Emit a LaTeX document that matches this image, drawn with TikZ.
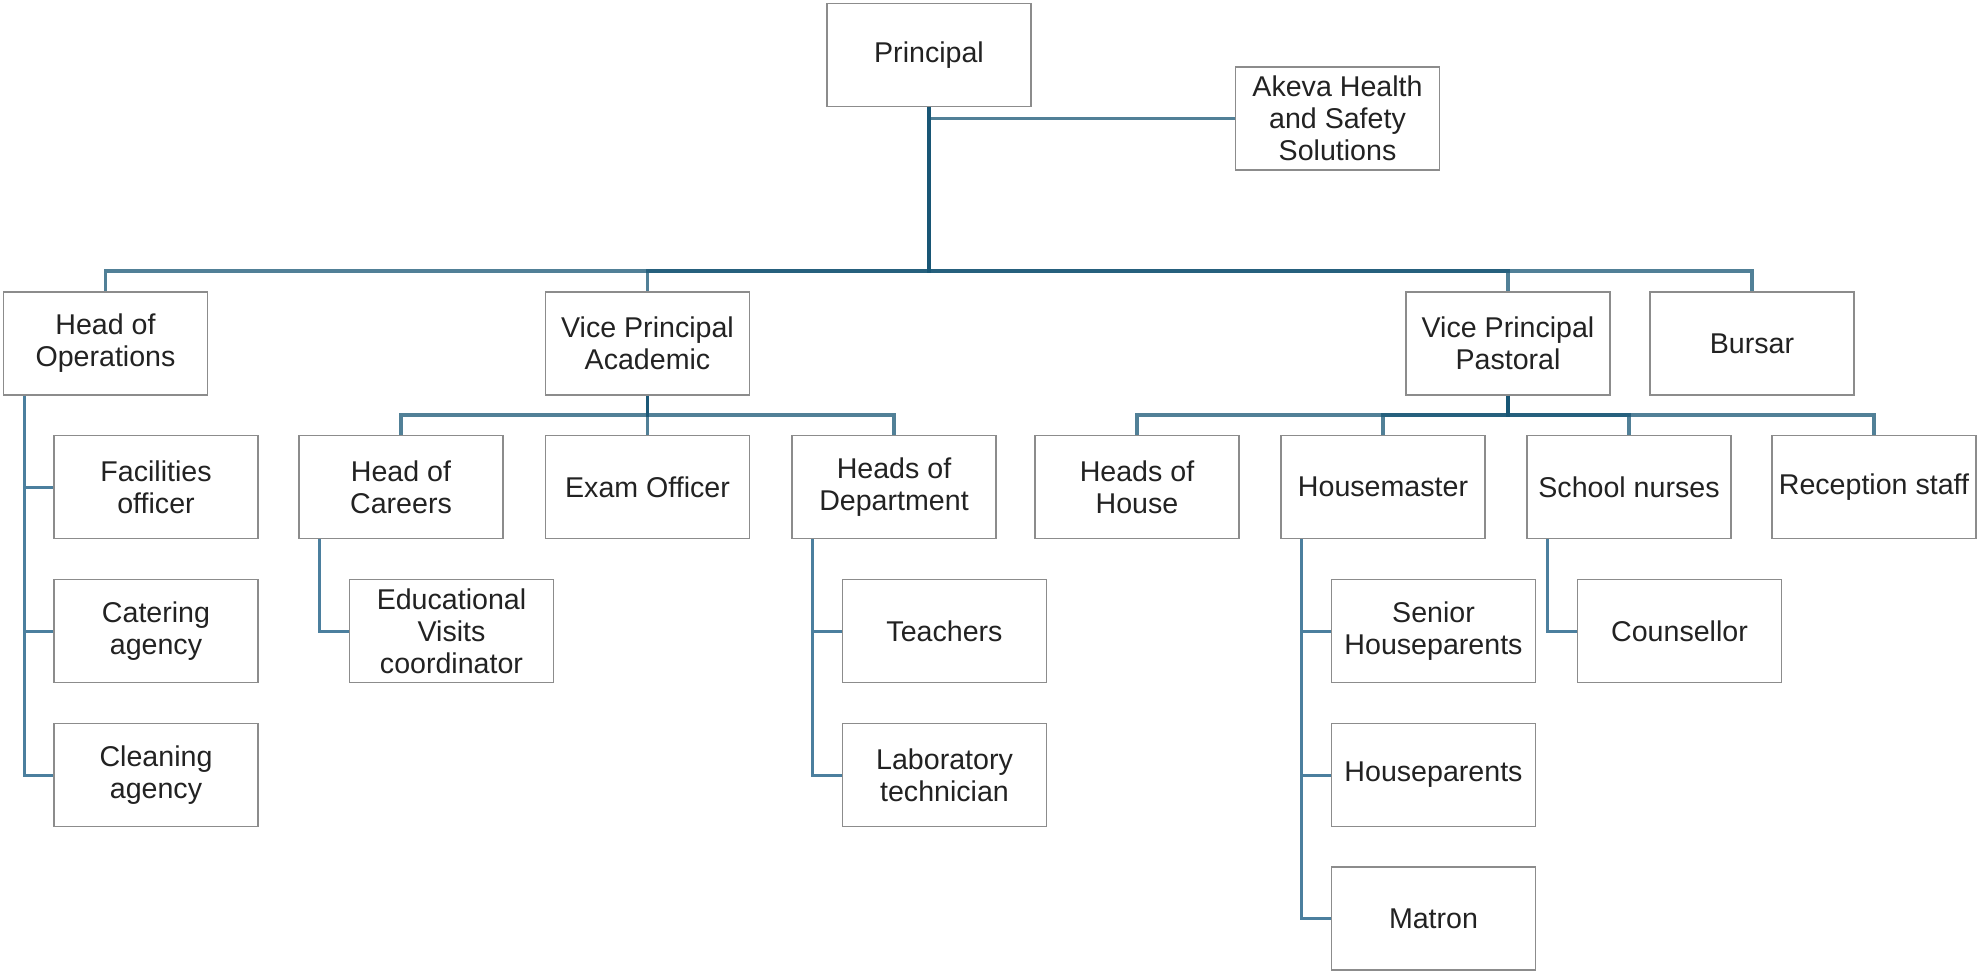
\documentclass[tikz,border=0pt]{standalone}
\usepackage{fontspec}
\setmainfont{Liberation Sans}
\definecolor{boxgray}{HTML}{8C8C8C}
\definecolor{textc}{HTML}{222222}
\definecolor{linec}{HTML}{185675}
\definecolor{sidec}{HTML}{4B7F9E}
\begin{document}
\begin{tikzpicture}[
  x=0.5pt, y=-0.5pt,
  box/.style={draw=boxgray, line width=0.9pt, fill=white, minimum width=102pt,
    minimum height=51.5pt, inner sep=0pt, align=center,
    font=\fontsize{14.3pt}{16pt}\selectfont, text=textc},
  conn/.style={draw=linec, draw opacity=0.75, line width=1.6pt},
  sconn/.style={draw=sidec, line width=1.5pt}
]
\useasboundingbox (0,0) rectangle (1977,971);
\fill[white] (0,0) rectangle (1977,971);

% level 0
\node[box] (pr) at (929,55) {Principal};
\node[box] (ak) at (1337.5,118.5) {Akeva Health\\and Safety\\Solutions};
% level 1
\node[box] (hoo) at (105.5,343.5) {Head of\\Operations};
\node[box] (vpa) at (647.5,343.5) {Vice Principal\\Academic};
\node[box] (vpp) at (1508,343.5) {Vice Principal\\Pastoral};
\node[box] (bur) at (1752,343.5) {Bursar};
% operations
\node[box] (fac) at (156,487) {Facilities\\officer};
\node[box] (cat) at (156,631) {Catering\\agency};
\node[box] (cle) at (156,775) {Cleaning\\agency};
% academic
\node[box] (hoc) at (401,487) {Head of\\Careers};
\node[box] (exo) at (647.5,487) {Exam Officer};
\node[box] (hod) at (894,487) {Heads of\\Department};
\node[box] (evc) at (451.5,631) {Educational\\Visits\\coordinator};
\node[box] (tea) at (944.5,631) {Teachers};
\node[box] (lab) at (944.5,775) {Laboratory\\technician};
% pastoral
\node[box] (hoh) at (1137,487) {Heads of\\House};
\node[box] (hm) at (1383,487) {Housemaster};
\node[box] (sn) at (1629,487) {School nurses};
\node[box] (rs) at (1874,487) {Reception staff};
\node[box] (shp) at (1433.5,631) {Senior\\Houseparents};
\node[box] (hp) at (1433.5,775) {Houseparents};
\node[box] (mat) at (1433.5,918.5) {Matron};
\node[box] (cou) at (1679.5,631) {Counsellor};

\coordinate (busA) at (0,271);
\coordinate (busB) at (0,415);

% principal connectors
\draw[conn] (pr.south) |- (ak.west);
\foreach \c in {hoo,vpa,vpp,bur}
  \draw[conn] (pr.south) -- (pr.south |- busA) -| (\c.north);
% vice principal academic
\foreach \c in {hoc,exo,hod}
  \draw[conn] (vpa.south) -- (vpa.south |- busB) -| (\c.north);
% vice principal pastoral
\foreach \c in {hoh,hm,sn,rs}
  \draw[conn] (vpp.south) -- (vpp.south |- busB) -| (\c.north);
% side branches
\foreach \c in {fac,cat,cle}
  \draw[sconn] ([xshift=10.75pt]hoo.south west) |- (\c.west);
\draw[sconn] ([xshift=10.75pt]hoc.south west) |- (evc.west);
\foreach \c in {tea,lab}
  \draw[sconn] ([xshift=10.75pt]hod.south west) |- (\c.west);
\foreach \c in {shp,hp,mat}
  \draw[sconn] ([xshift=10.75pt]hm.south west) |- (\c.west);
\draw[sconn] ([xshift=10.75pt]sn.south west) |- (cou.west);
\end{tikzpicture}
\end{document}
